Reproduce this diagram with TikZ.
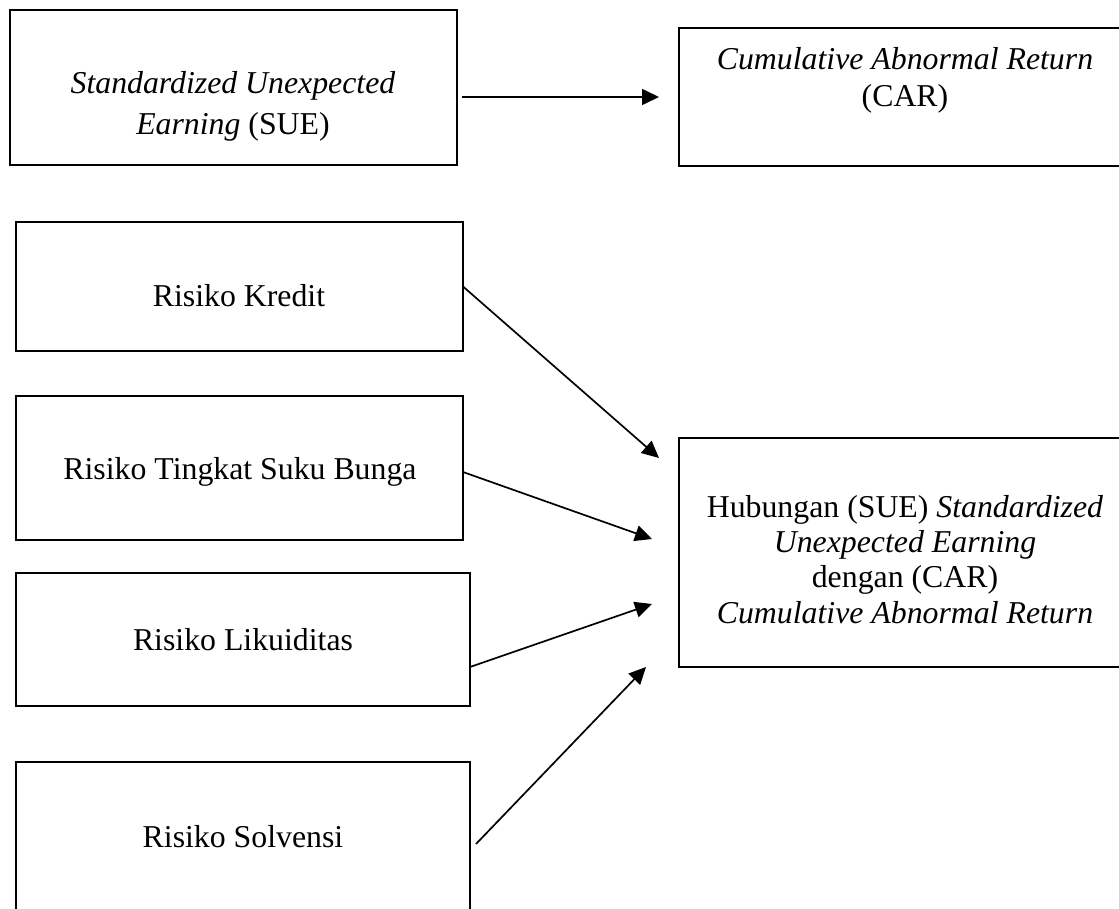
\documentclass[tikz,border=0pt]{standalone}
\usepackage{fontspec}
\setmainfont{Liberation Serif}
\usetikzlibrary{arrows.meta}
\begin{document}
\begin{tikzpicture}[x=1pt,y=-1pt,
  box/.style={draw, line width=1.9pt, inner sep=0pt, outer sep=0pt},
  txt/.style={font=\fontsize{31.8}{37}\selectfont, inner sep=0pt, anchor=base},
  arr/.style={line width=1.7pt, -{Triangle[length=17pt,width=16pt]}}]
\useasboundingbox (0,0) rectangle (1119,909);
\clip (0,0) rectangle (1119,909);
% boxes
\node[box, minimum width=447pt, minimum height=155pt] (sue) at (233.5,87.5) {};
\node[box, minimum width=446pt, minimum height=138pt] (car) at (902,97) {};
\node[box, minimum width=447pt, minimum height=129pt] (kredit) at (239.5,286.5) {};
\node[box, minimum width=447pt, minimum height=144pt] (tingkat) at (239.5,468) {};
\node[box, minimum width=454pt, minimum height=133pt] (likuid) at (243,639.5) {};
\node[box, minimum width=454pt, minimum height=152pt] (solv) at (243,838) {};
\node[box, minimum width=446pt, minimum height=229pt] (hub) at (902,552.5) {};
% texts
\node[txt] (sue1) at (233,94) {\textit{Standardized Unexpected}};
\node[txt] (sue2) at (233,135) {\textit{Earning} (SUE)};
\node[txt] (car1) at (905,70) {\textit{Cumulative Abnormal Return}};
\node[txt] (car2) at (905,107) {(CAR)};
\node[txt] (kredit1) at (239,306) {Risiko Kredit};
\node[txt] (tingkat1) at (240,479) {Risiko Tingkat Suku Bunga};
\node[txt] (likuid1) at (243,650) {Risiko Likuiditas};
\node[txt] (solv1) at (243,847) {Risiko Solvensi};
\node[txt] (hub1) at (905,517) {Hubungan (SUE) \textit{Standardized}};
\node[txt] (hub2) at (905,552) {\textit{Unexpected Earning}};
\node[txt] (hub3) at (905,587) {dengan (CAR)};
\node[txt] (hub4) at (905,623) {\textit{Cumulative Abnormal Return}};
% arrow tips
\coordinate (hsue) at (659,97);
\coordinate (hk) at (659,458);
\coordinate (ht) at (652,539);
\coordinate (hl) at (652,604);
\coordinate (hs) at (646,667);
% connectors
\draw[arr] ([xshift=5pt,yshift=-9.5pt]sue.east) -- (hsue);
\draw[arr] (kredit.east) -- (hk);
\draw[arr] ([yshift=-4pt]tingkat.east) -- (ht);
\draw[arr] ([yshift=-27.5pt]likuid.east) -- (hl);
\draw[arr] ([xshift=6pt,yshift=-6pt]solv.east) -- (hs);
\end{tikzpicture}
\end{document}
